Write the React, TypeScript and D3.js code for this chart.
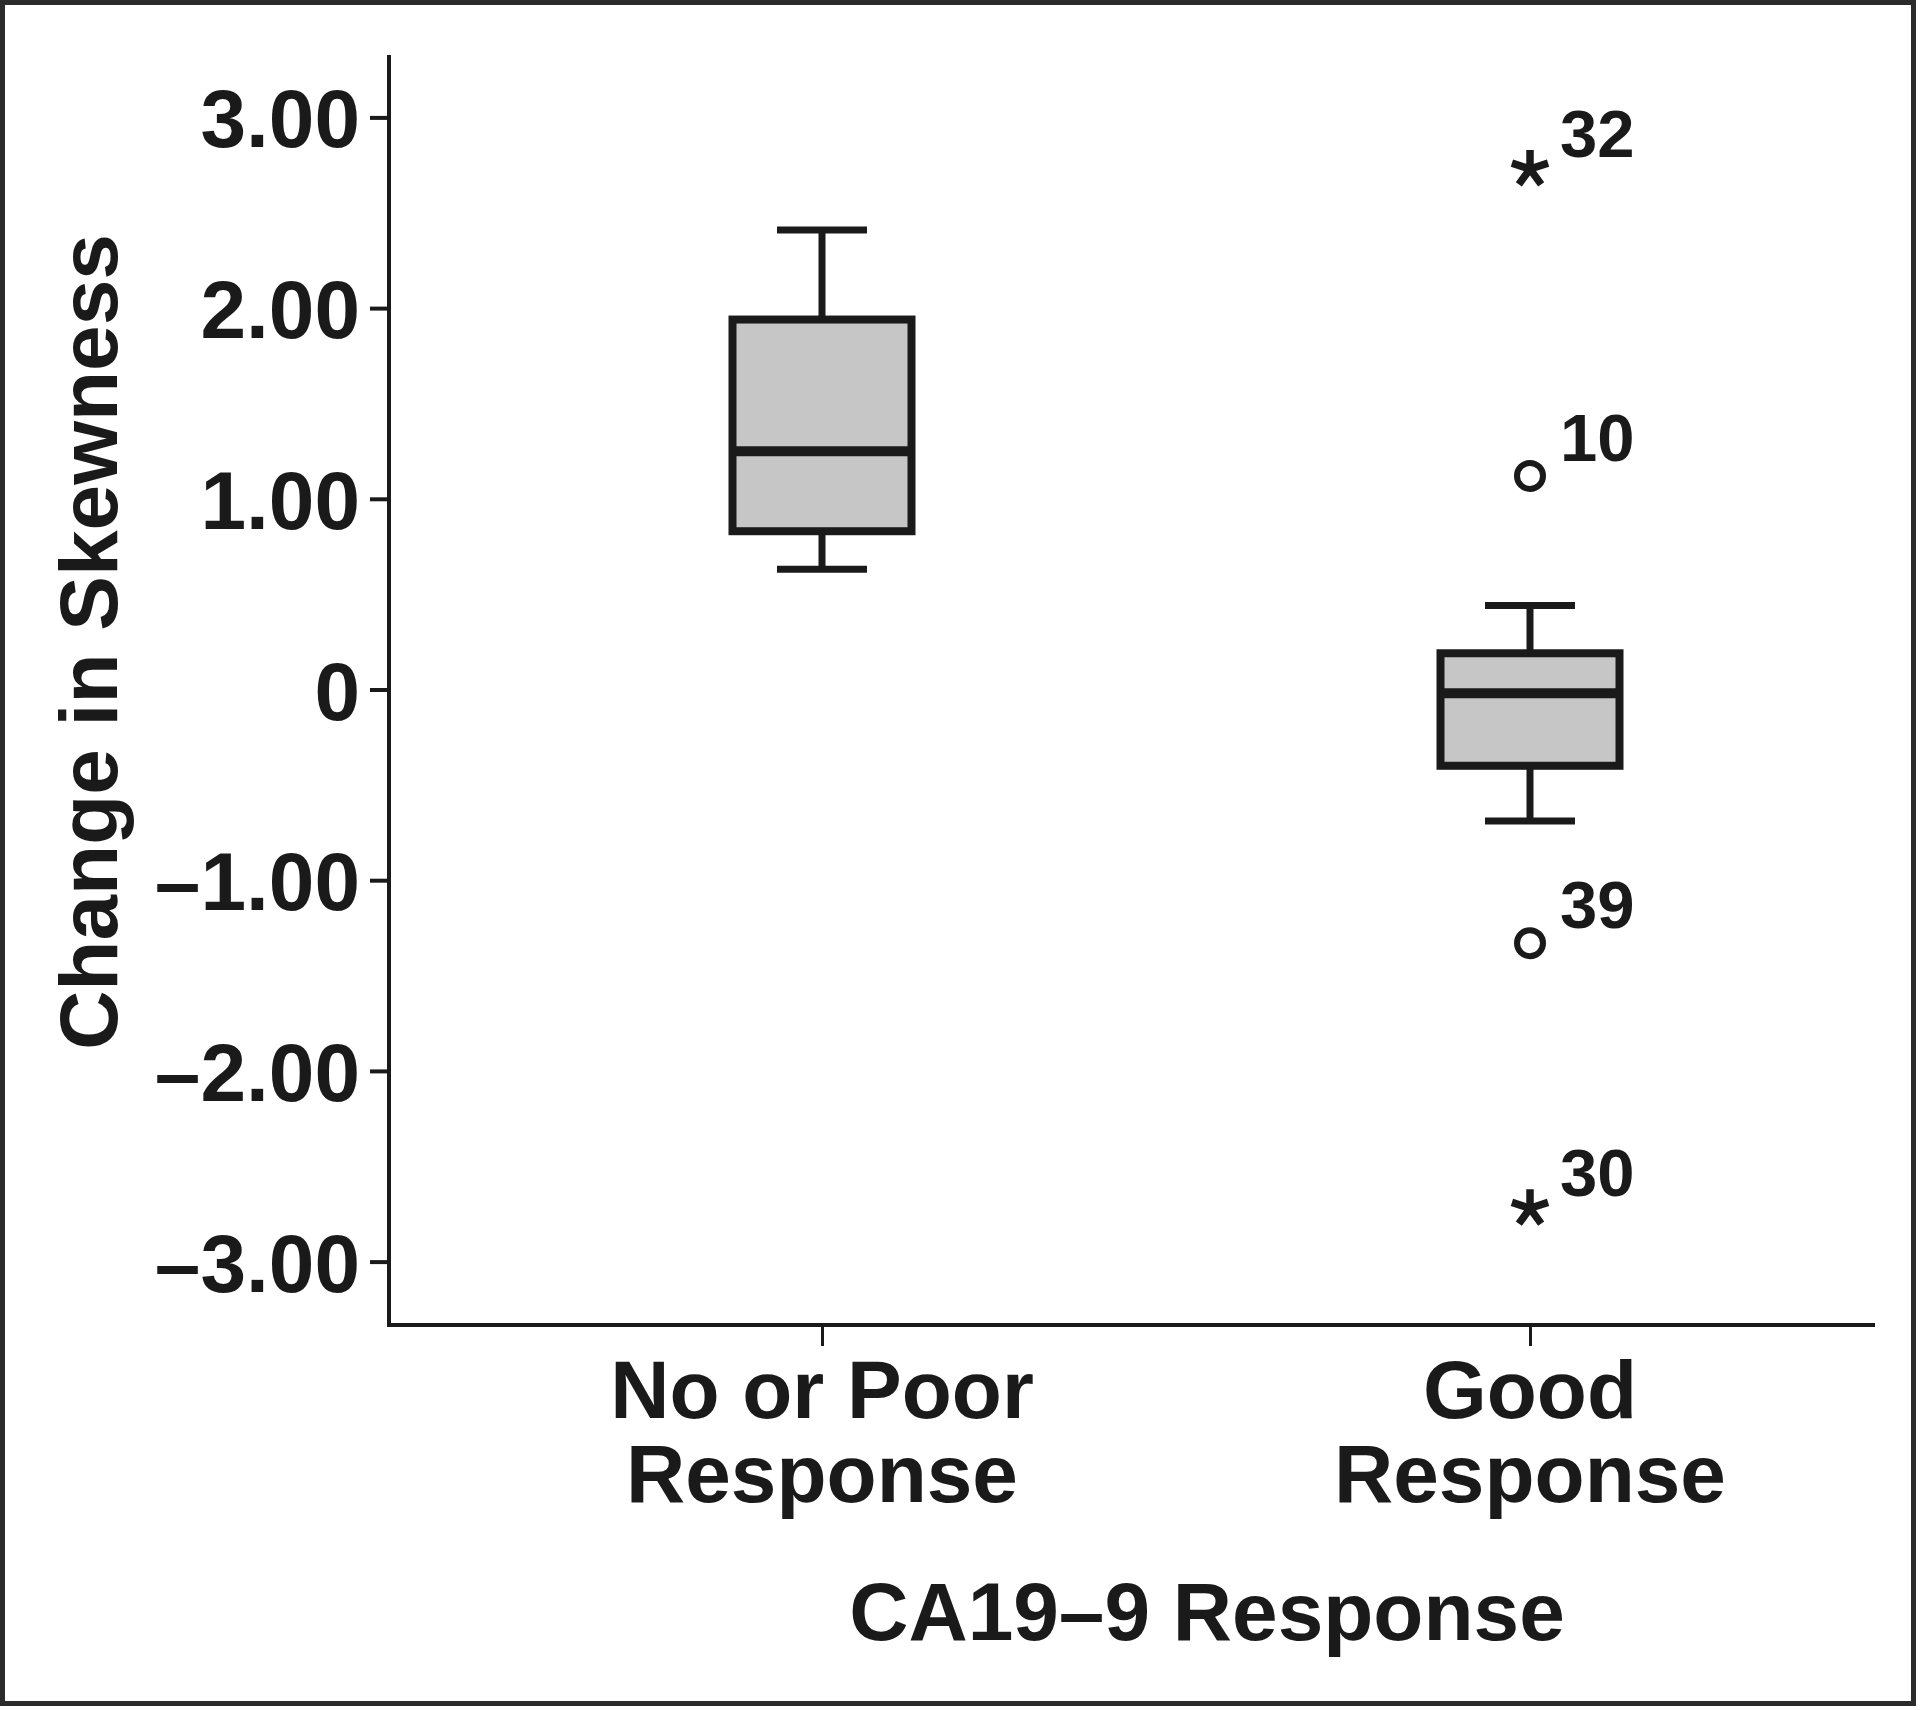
import React, { useEffect, useRef } from "react";
import * as d3 from "d3";

const categories = ["No or Poor Response", "Good Response"];
const categoryLines = [["No or Poor", "Response"], ["Good", "Response"]];
const whiskerLow = [0.63, -0.69];
const q1 = [0.83, -0.4];
const median = [1.25, -0.02];
const q3 = [1.94, 0.19];
const whiskerHigh = [2.41, 0.44];

const outlierCategory = ["Good Response", "Good Response", "Good Response", "Good Response"];
const outlierValues = [2.74, 1.12, -1.33, -2.71];
const outlierIds = ["32", "10", "39", "30"];
const outlierKinds = ["extreme", "mild", "mild", "extreme"];

const yTicks = [3, 2, 1, 0, -1, -2, -3];
const yTickLabels = ["3.00", "2.00", "1.00", "0", "–1.00", "–2.00", "–3.00"];
const yTitle = "Change in Skewness";
const xTitle = "CA19–9 Response";

const W = 1920;
const H = 1710;
const FONT = "'Liberation Sans', Arial, Helvetica, sans-serif";
const INK = "#1a1a1a";

export default function App() {
  const ref = useRef<SVGSVGElement | null>(null);

  const y = d3.scaleLinear().domain([-3, 3]).range([1261.6, 117.4]);
  const x = d3.scalePoint<string>().domain(categories).range([822, 1530]);
  const axisLeftX = 389;
  const axisTop = 55;
  const axisBottomY = 1325;
  const axisRight = 1875;
  const boxW = 179;
  const capW = 90;

  useEffect(() => {
    if (!ref.current) return;
    const svg = d3.select(ref.current);
    const gy = svg.select<SVGGElement>("g.yaxis");
    gy.selectAll("*").remove();
    gy.call(
      d3
        .axisLeft(y)
        .tickValues(yTicks)
        .tickFormat((d, i) => yTickLabels[i])
        .tickSize(19)
        .tickPadding(10)
    );
    gy.select(".domain").remove();
    gy.selectAll(".tick line").attr("stroke", INK).attr("stroke-width", 4);
    gy.selectAll(".tick text")
      .attr("fill", INK)
      .attr("font-family", FONT)
      .attr("font-weight", "bold")
      .attr("font-size", 82)
      .attr("dy", "0.36em");

    const gx = svg.select<SVGGElement>("g.xaxis");
    gx.selectAll("*").remove();
    gx.call(d3.axisBottom(x).tickSize(21).tickFormat(() => ""));
    gx.select(".domain").remove();
    gx.selectAll(".tick line").attr("stroke", INK).attr("stroke-width", 3);
  }, []);

  const asteriskPath = (cx: number, cy: number, r: number) => {
    const angles = [-90, -18, 54, 126, 198];
    return angles
      .map((a) => {
        const rad = (a * Math.PI) / 180;
        return `M${cx},${cy}L${cx + r * Math.cos(rad)},${cy + r * Math.sin(rad)}`;
      })
      .join("");
  };

  return (
    <div style={{ position: "absolute", left: 0, top: 0 }}>
      <svg ref={ref} width={W} height={H} style={{ display: "block", background: "#fff" }}>
        <rect x={2.5} y={2.5} width={1911} height={1701} fill="#fff" stroke="#2b2b2b" strokeWidth={5} />

        <g className="yaxis" transform={`translate(${axisLeftX},0)`} />
        <g className="xaxis" transform={`translate(0,${axisBottomY})`} />

        <line x1={axisLeftX} x2={axisLeftX} y1={axisTop} y2={axisBottomY + 2} stroke={INK} strokeWidth={4} />
        <line x1={axisLeftX - 2} x2={axisRight} y1={axisBottomY} y2={axisBottomY} stroke={INK} strokeWidth={4} />

        {categories.map((c, i) => {
          const cx = x(c) as number;
          return (
            <g key={c}>
              <line x1={cx} x2={cx} y1={y(whiskerHigh[i])} y2={y(q3[i])} stroke={INK} strokeWidth={7} />
              <line x1={cx} x2={cx} y1={y(q1[i])} y2={y(whiskerLow[i])} stroke={INK} strokeWidth={7} />
              <line x1={cx - capW / 2} x2={cx + capW / 2} y1={y(whiskerHigh[i])} y2={y(whiskerHigh[i])} stroke={INK} strokeWidth={7} />
              <line x1={cx - capW / 2} x2={cx + capW / 2} y1={y(whiskerLow[i])} y2={y(whiskerLow[i])} stroke={INK} strokeWidth={7} />
              <rect
                x={cx - boxW / 2}
                y={y(q3[i])}
                width={boxW}
                height={y(q1[i]) - y(q3[i])}
                fill="#c6c6c6"
                stroke={INK}
                strokeWidth={8}
              />
              <line x1={cx - boxW / 2} x2={cx + boxW / 2} y1={y(median[i])} y2={y(median[i])} stroke={INK} strokeWidth={10} />
            </g>
          );
        })}

        {outlierValues.map((v, i) => {
          const cx = x(outlierCategory[i]) as number;
          const cy = y(v);
          const isExtreme = outlierKinds[i] === "extreme";
          return (
            <g key={outlierIds[i]}>
              {isExtreme ? (
                <path d={asteriskPath(cx, cy + 2, 19)} stroke={INK} strokeWidth={7.5} strokeLinecap="butt" fill="none" />
              ) : (
                <circle cx={cx} cy={cy} r={13} fill="#fff" stroke={INK} strokeWidth={6} />
              )}
              <text
                x={cx + 30}
                y={cy + (isExtreme ? -10 : -15)}
                fontFamily={FONT}
                fontWeight="bold"
                fontSize={67}
                fill={INK}
              >
                {outlierIds[i]}
              </text>
            </g>
          );
        })}

        {categories.map((c, i) => (
          <text
            key={`lab-${c}`}
            x={x(c) as number}
            textAnchor="middle"
            fontFamily={FONT}
            fontWeight="bold"
            fontSize={82}
            fill={INK}
          >
            {categoryLines[i].map((ln, j) => (
              <tspan key={j} x={x(c) as number} y={1418 + j * 84}>
                {ln}
              </tspan>
            ))}
          </text>
        ))}

        <text x={1207} y={1640} textAnchor="middle" fontFamily={FONT} fontWeight="bold" fontSize={82} fill={INK}>
          {xTitle}
        </text>

        <text
          transform={`translate(117,642) rotate(-90)`}
          textAnchor="middle"
          fontFamily={FONT}
          fontWeight="bold"
          fontSize={82}
          fill={INK}
        >
          {yTitle}
        </text>
      </svg>
    </div>
  );
}
